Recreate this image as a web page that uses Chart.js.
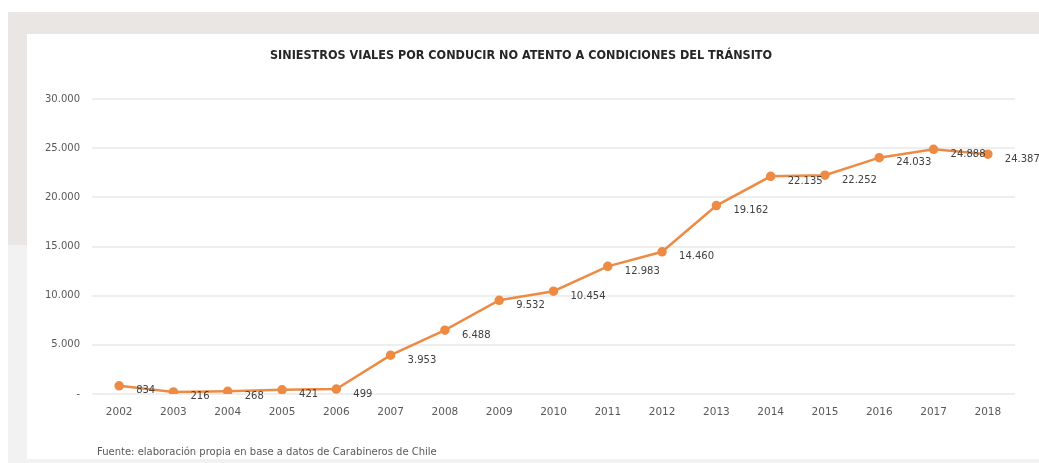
<!DOCTYPE html>
<html>
<head>
<meta charset="utf-8">
<script src="https://cdn.jsdelivr.net/npm/chart.js@4.4.1/dist/chart.umd.min.js"></script>
<style>
  html, body { margin: 0; padding: 0; background: #ffffff; }
  body { width: 1039px; height: 463px; position: relative; overflow: hidden; }
  #topband { position: absolute; left: 8px; top: 12px; width: 1031px; height: 22px; background: #e9e6e4; }
  #leftband1 { position: absolute; left: 8px; top: 34px; width: 19px; height: 211px; background: #e9e6e4; }
  #leftband2 { position: absolute; left: 8px; top: 245px; width: 19px; height: 218px; background: #f1f2f1; }
  #bottomband { position: absolute; left: 27px; top: 459px; width: 1012px; height: 4px; background: #f1f2f1; }
  #wrap { position: absolute; left: 27px; top: 34px; width: 1012px; height: 425px; }
</style>
</head>
<body>
<div id="topband"></div>
<div id="leftband1"></div>
<div id="leftband2"></div>
<div id="bottomband"></div>
<div id="wrap"><canvas id="c"></canvas></div>
<script>
const years = ["2002","2003","2004","2005","2006","2007","2008","2009","2010","2011","2012","2013","2014","2015","2016","2017","2018"];
const siniestros = [834, 216, 268, 421, 499, 3953, 6488, 9532, 10454, 12983, 14460, 19162, 22135, 22252, 24033, 24888, 24387];
const yTicks = [0, 5000, 10000, 15000, 20000, 25000, 30000];
const chartTitle = "SINIESTROS VIALES POR CONDUCIR NO ATENTO A CONDICIONES DEL TRÁNSITO";
const sourceText = "Fuente: elaboración propia en base a datos de Carabineros de Chile";

function fmt(v) {
  if (v === 0) return "-";
  return String(v).replace(/\B(?=(\d{3})+(?!\d))/g, ".");
}

const labelPlugin = {
  id: "valueLabels",
  afterDatasetsDraw(chart) {
    const ctx = chart.ctx;
    const meta = chart.getDatasetMeta(0);
    ctx.save();
    ctx.font = "10px 'DejaVu Sans', sans-serif";
    ctx.fillStyle = "#404040";
    ctx.textAlign = "left";
    ctx.textBaseline = "middle";
    meta.data.forEach((pt, i) => {
      ctx.fillText(fmt(siniestros[i]), pt.x + 17, pt.y + 5);
    });
    ctx.restore();
  },
  afterDraw(chart) {
    const ctx = chart.ctx;
    ctx.save();
    ctx.font = "10px 'DejaVu Sans', sans-serif";
    ctx.fillStyle = "#595959";
    ctx.textAlign = "left";
    ctx.textBaseline = "middle";
    ctx.fillText(sourceText, 70, 418);
    ctx.restore();
  }
};

new Chart(document.getElementById("c"), {
  type: "line",
  data: {
    labels: years,
    datasets: [{
      data: siniestros,
      borderColor: "#ed8b45",
      backgroundColor: "#ed8b45",
      borderWidth: 2.5,
      pointStyle: "circle",
      pointRadius: 3.5,
      pointHoverRadius: 3.5,
      tension: 0
    }]
  },
  options: {
    responsive: true,
    maintainAspectRatio: false,
    animation: false,
    devicePixelRatio: 1,
    layout: { padding: { left: 0, right: 24, top: 10, bottom: 35 } },
    plugins: {
      legend: { display: false },
      tooltip: { enabled: false },
      title: {
        display: true,
        text: chartTitle,
        color: "#262626",
        font: { family: "'DejaVu Sans Condensed', 'DejaVu Sans', sans-serif", size: 12.5, weight: "bold" },
        padding: { top: 4, bottom: 36 }
      }
    },
    scales: {
      x: {
        offset: true,
        grid: { display: false, drawTicks: false },
        border: { display: false },
        ticks: {
          color: "#595959",
          padding: 12,
          maxRotation: 0,
          font: { family: "'DejaVu Sans', sans-serif", size: 10.5 }
        },
        afterFit(s) { s.height = 30; }
      },
      y: {
        min: 0,
        max: 30000,
        afterBuildTicks(s) { s.ticks = yTicks.map(v => ({ value: v })); },
        grid: { color: "#eeeeee", lineWidth: 2, drawTicks: false },
        border: { display: false },
        ticks: {
          color: "#595959",
          padding: 12,
          font: { family: "'DejaVu Sans', sans-serif", size: 10 },
          callback: (v) => fmt(v)
        },
        afterFit(s) { s.width = 65; }
      }
    }
  },
  plugins: [labelPlugin]
});
</script>
</body>
</html>
